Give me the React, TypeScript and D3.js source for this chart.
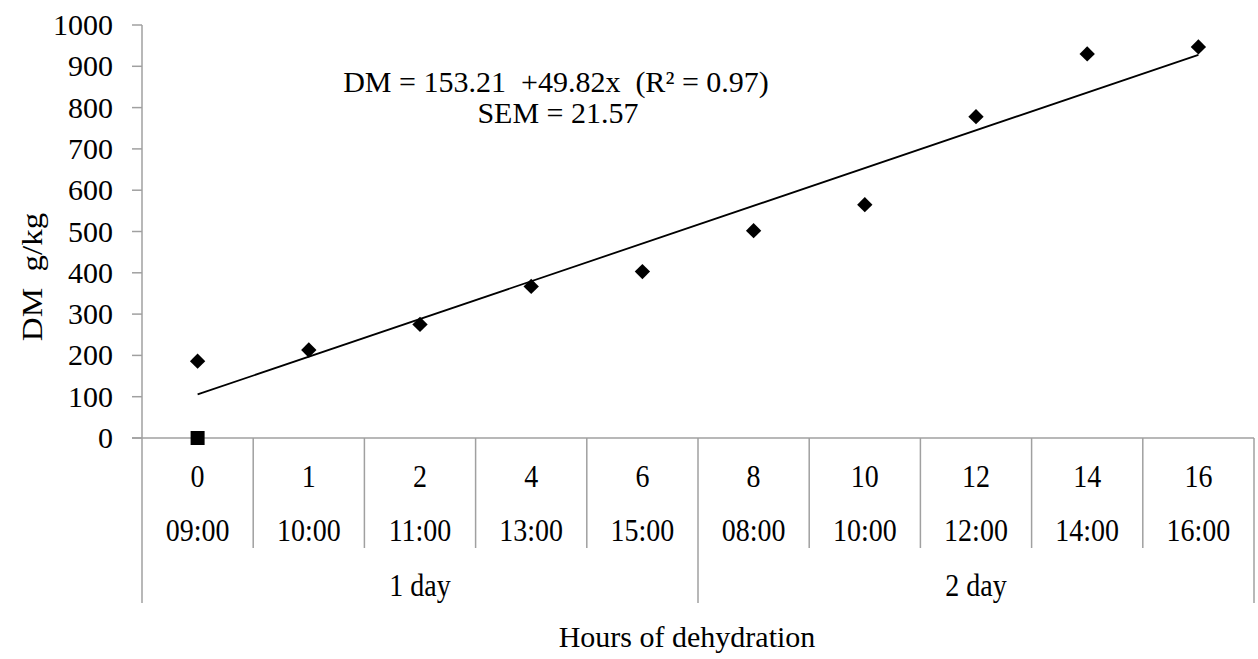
import React from "react";
import * as d3 from "d3";

const hours = ["0", "1", "2", "4", "6", "8", "10", "12", "14", "16"];
const times = ["09:00", "10:00", "11:00", "13:00", "15:00", "08:00", "10:00", "12:00", "14:00", "16:00"];
const days = ["1 day", "2 day"];
const daySpan = [5, 5];
const dmValues = [186, 213, 275, 367, 403, 502, 565, 778, 930, 947];
const squareValues = [0];
const yTicks = [0, 100, 200, 300, 400, 500, 600, 700, 800, 900, 1000];
const equationText = "DM = 153.21  +49.82x  (R² = 0.97)";
const semText = "SEM = 21.57";
const yTitle = "DM  g/kg";
const xTitle = "Hours of dehydration";

const W = 1258;
const H = 659;
const left = 142;
const right = 1254;
const top = 25;
const base = 438;
const lvl1 = 548;
const lvl2 = 603;
const axisColor = "#a0a0a0";
const txtStyle: React.CSSProperties = { fontFamily: "'Liberation Serif', 'Times New Roman', 'DejaVu Serif', serif", whiteSpace: "pre" };

export default function App() {
  const idx = hours.map((_, i) => String(i));
  const x = d3.scaleBand<string>().domain(idx).range([left, right]).paddingInner(0).paddingOuter(0);
  const y = d3.scaleLinear().domain([0, 1000]).range([base, top]);
  const cx = (i: number) => (x(String(i)) as number) + x.bandwidth() / 2;

  // Linear trendline (least squares on category index, as the spreadsheet does)
  const n = dmValues.length;
  const xs = dmValues.map((_, i) => i + 1);
  const mx = d3.mean(xs) as number;
  const my = d3.mean(dmValues) as number;
  const sxy = d3.sum(xs.map((xi, i) => (xi - mx) * (dmValues[i] - my)));
  const sxx = d3.sum(xs.map((xi) => (xi - mx) * (xi - mx)));
  const slope = sxy / sxx;
  const intercept = my - slope * mx;
  const trend = [0, n - 1].map((i) => [cx(i), y(intercept + slope * (i + 1))] as [number, number]);
  const line = d3.line();

  const diamond = d3.symbol().type(d3.symbolDiamond2).size(150)();

  const boundaries = d3.range(n + 1).map((i) => (i < n ? (x(String(i)) as number) : right));
  let acc = 0;
  const dayStarts = daySpan.map((s) => {
    const st = acc;
    acc += s;
    return st;
  });

  const xl = (xx: number, yy: number) => `translate(${xx},${yy}) scale(1,1.1)`;

  return (
    <svg width={W} height={H} style={{ position: "absolute", left: 0, top: 0, background: "#fff" }}>
      {/* y axis */}
      <line x1={left} x2={left} y1={top} y2={lvl2} stroke={axisColor} strokeWidth={1.5} />
      {yTicks.map((t) => (
        <g key={t}>
          <line x1={left - 10} x2={left} y1={y(t)} y2={y(t)} stroke={axisColor} strokeWidth={1.5} />
          <text x={113} y={y(t) + 10} textAnchor="end" fontSize={30} fill="#000" style={txtStyle}>
            {t}
          </text>
        </g>
      ))}
      {/* x axis */}
      <line x1={left - 10} x2={right} y1={base} y2={base} stroke={axisColor} strokeWidth={1.5} />
      {boundaries.map((b, i) => {
        if (i === 0) return null;
        const isDay = i === n || dayStarts.includes(i);
        return <line key={i} x1={b} x2={b} y1={base} y2={isDay ? lvl2 : lvl1} stroke={axisColor} strokeWidth={1.5} />;
      })}
      {hours.map((h, i) => (
        <text key={"h" + i} transform={xl(cx(i), 487)} textAnchor="middle" fontSize={28} style={txtStyle}>
          {h}
        </text>
      ))}
      {times.map((t, i) => (
        <text key={"t" + i} transform={xl(cx(i), 541)} textAnchor="middle" fontSize={28} style={txtStyle}>
          {t}
        </text>
      ))}
      {days.map((d, k) => {
        const s = dayStarts[k];
        const e = s + daySpan[k];
        const mid = (boundaries[s] + boundaries[e]) / 2;
        return (
          <text key={d} transform={xl(mid, 596)} textAnchor="middle" fontSize={28} style={txtStyle}>
            {d}
          </text>
        );
      })}
      {/* titles */}
      <text x={687} y={647} textAnchor="middle" fontSize={30} style={txtStyle}>
        {xTitle}
      </text>
      <text transform={`translate(42, 277) rotate(-90) scale(1.1,1)`} textAnchor="middle" fontSize={30} style={txtStyle}>
        {yTitle}
      </text>
      {/* trendline */}
      <path d={line(trend) as string} stroke="#000" strokeWidth={1.8} fill="none" />
      {/* points */}
      {dmValues.map((v, i) => (
        <path key={"p" + i} d={diamond as string} transform={`translate(${cx(i)},${y(v)})`} fill="#000" />
      ))}
      {squareValues.map((v, i) => (
        <rect key={"s" + i} x={cx(i) - 7} y={y(v) - 7} width={14} height={14} fill="#000" />
      ))}
      {/* equation */}
      <text x={556} y={92} textAnchor="middle" fontSize={30} style={txtStyle}>
        {equationText}
      </text>
      <text x={558} y={123} textAnchor="middle" fontSize={30} style={txtStyle}>
        {semText}
      </text>
    </svg>
  );
}
